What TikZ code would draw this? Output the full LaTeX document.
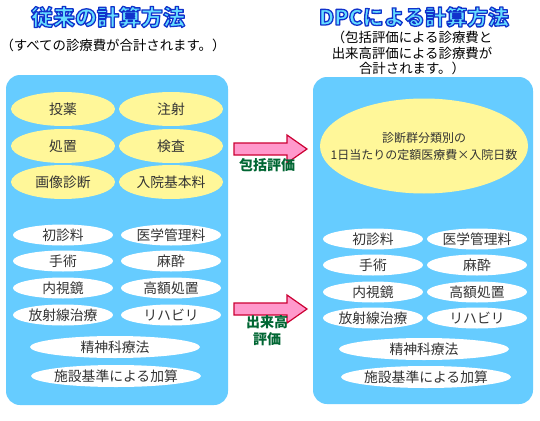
\documentclass[tikz,border=0pt]{standalone}
\usepackage{fontspec}
\setmainfont{Noto Sans CJK JP}
\usetikzlibrary{shapes.geometric}
\definecolor{panelblue}{HTML}{66CCFF}
\definecolor{yelfill}{HTML}{FFF799}
\definecolor{arrowfill}{HTML}{FF99CC}
\definecolor{arrowline}{HTML}{CC0033}
\definecolor{lblgreen}{HTML}{006633}
\definecolor{titlefill}{HTML}{66DDFF}
\definecolor{txtgray}{HTML}{333333}
\tikzset{
  panel/.style={fill=panelblue, rounded corners=14pt},
  yel/.style={ellipse, fill=yelfill, inner sep=0pt, minimum width=104pt, minimum height=34pt},
  wht/.style={ellipse, fill=white, inner sep=0pt, minimum width=100pt, minimum height=21pt},
  widewht/.style={wht, minimum width=170pt, minimum height=22pt},
  bigyel/.style={ellipse, fill=yelfill, inner sep=0pt, minimum width=208pt, minimum height=95pt},
  ovaltxt/.style={inner sep=0pt, text=txtgray, font=\fontsize{13.8}{16}\selectfont},
  bigtxt/.style={inner sep=0pt, text=txtgray, align=center, font=\fontsize{12}{17}\selectfont},
  blockarrow/.style={fill=arrowfill, draw=arrowline, line width=1.2pt, line join=miter},
  grnlbl/.style={text=lblgreen, font=\bfseries\fontsize{14}{17}\selectfont, align=center, inner sep=0pt},
  sub/.style={text=black, font=\fontsize{13.4}{15.5}\selectfont, align=center, inner sep=0pt},
  ttl/.style={text=titlefill, font=\bfseries\fontsize{22}{24}\selectfont, inner sep=0pt},
}
\newcommand\myoval[4]{\node[#2] (#1) at (#3) {}; \node[ovaltxt] (#1t) at (#1) {#4};}
\newcommand\outlined[1]{\special{pdf:literal direct 2 Tr 1.3 w 1 j 0.067 0.2 0.8 RG}#1\special{pdf:literal direct 0 Tr}}
\begin{document}
\begin{tikzpicture}[x=1pt, y=-1pt]
\useasboundingbox[fill=white] (0,0) rectangle (540,420);
% titles
\node[ttl] (ltitle) at (108,17) {\outlined{従来の計算方法}};
\node[ttl, font=\bfseries\fontsize{21}{24}\selectfont] (rtitle) at (414,17) {\outlined{DPCによる計算方法}};
\node[sub] (lsub) at (113,45) {（すべての診療費が合計されます。）};
\node[sub] (rsub) at (412,53) {（包括評価による診療費と\\出来高評価による診療費が\\合計されます。）};
% panels
\fill[panel] (6,75) rectangle (228,405);
\fill[panel] (313,77) rectangle (533,404);
% left yellow
\myoval{l1}{yel}{63,109}{投薬}
\myoval{l2}{yel}{171,109}{注射}
\myoval{l3}{yel}{63,146}{処置}
\myoval{l4}{yel}{171,146}{検査}
\myoval{l5}{yel}{63,182}{画像診断}
\myoval{l6}{yel}{171,182}{入院基本料}
% left white
\myoval{lw1}{wht}{63,235}{初診料}
\myoval{lw2}{wht}{171,235}{医学管理料}
\myoval{lw3}{wht}{63,261}{手術}
\myoval{lw4}{wht}{171,261}{麻酔}
\myoval{lw5}{wht}{63,288}{内視鏡}
\myoval{lw6}{wht}{171,288}{高額処置}
\myoval{lw7}{wht}{63,315}{放射線治療}
\myoval{lw8}{wht}{171,315}{リハビリ}
\myoval{lw9}{widewht}{115,347}{精神科療法}
\myoval{lw10}{widewht}{116,376}{施設基準による加算}
% right big
\node[bigyel] (big) at (424,146) {};
\node[bigtxt] (bigt) at (big) {診断群分類別の\\1日当たりの定額医療費×入院日数};
% right white
\myoval{rw1}{wht}{373,239}{初診料}
\myoval{rw2}{wht}{477,239}{医学管理料}
\myoval{rw3}{wht}{373,265}{手術}
\myoval{rw4}{wht}{477,265}{麻酔}
\myoval{rw5}{wht}{373,292}{内視鏡}
\myoval{rw6}{wht}{477,292}{高額処置}
\myoval{rw7}{wht}{373,318}{放射線治療}
\myoval{rw8}{wht}{477,318}{リハビリ}
\myoval{rw9}{widewht}{424,349}{精神科療法}
\myoval{rw10}{widewht}{426,377}{施設基準による加算}
% arrows
\coordinate (a1) at (234,137);
\draw[blockarrow] ([yshift=-6]a1) -- ++(53,0) -- ++(0,-8) -- ++(20,14) -- ++(-20,14) -- ++(0,-8) -- ++(-53,0) -- cycle;
\node[grnlbl] (g1) at (267,165) {包括評価};
\coordinate (a2) at (234,297);
\draw[blockarrow] ([yshift=-6]a2) -- ++(53,0) -- ++(0,-8) -- ++(20,14) -- ++(-20,14) -- ++(0,-8) -- ++(-53,0) -- cycle;
\node[grnlbl] (g2) at (267,331) {出来高\\評価};
\end{tikzpicture}
\end{document}
